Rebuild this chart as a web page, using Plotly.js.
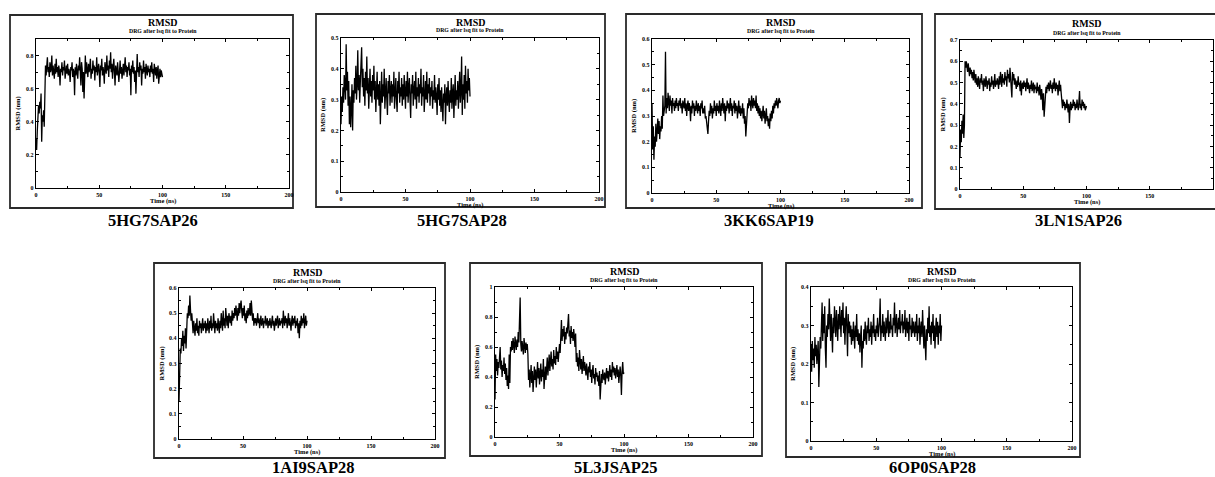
<!DOCTYPE html>
<html>
<head>
<meta charset="utf-8">
<script src="https://cdn.plot.ly/plotly-3.0.1.min.js"></script>
<style>html,body{margin:0;padding:0;background:#fff;}#chart{width:1215px;height:477px;}</style>
</head>
<body>
<div id="chart"></div>
<script>
// ---------------- DATA ----------------
const panelNames = ['5HG7SAP26','5HG7SAP28','3KK6SAP19','3LN1SAP26','1AI9SAP28','5L3JSAP25','6OP0SAP28'];
const chartTitle = 'RMSD';
const chartSubtitle = 'DRG after lsq fit to Protein';
const xAxisLabel = 'Time (ns)';
const yAxisLabel = 'RMSD (nm)';
const timeStep = 0.5; // ns between samples
const xMax = 200;
const xTickStep = 50;
const yMax = [0.9, 0.5, 0.6, 0.7, 0.6, 1, 0.4];
const yTickStep = [0.2, 0.1, 0.1, 0.1, 0.1, 0.2, 0.1];

const rmsd_5HG7SAP26 = [
0.30,0.23,0.34,0.40,0.50,0.45,0.52,0.48,0.57,0.28,0.44,0.40,0.47,0.37,0.69,0.74,0.68,0.72,0.79,0.70,
0.73,0.67,0.76,0.70,0.72,0.80,0.68,0.74,0.71,0.66,0.75,0.69,0.78,0.70,0.73,0.67,0.74,0.71,0.62,0.72,
0.70,0.76,0.68,0.73,0.71,0.77,0.66,0.72,0.74,0.69,0.75,0.68,0.72,0.70,0.64,0.73,0.71,0.76,0.67,0.72,
0.70,0.56,0.73,0.68,0.75,0.70,0.66,0.74,0.71,0.79,0.69,0.62,0.76,0.72,0.58,0.70,0.54,0.74,0.80,0.69,
0.76,0.71,0.67,0.75,0.70,0.73,0.78,0.66,0.72,0.69,0.77,0.71,0.74,0.65,0.73,0.70,0.79,0.68,0.72,0.75,
0.70,0.61,0.74,0.71,0.78,0.68,0.73,0.70,0.63,0.76,0.72,0.69,0.80,0.71,0.74,0.67,0.77,0.72,0.82,0.70,
0.75,0.66,0.73,0.78,0.70,0.62,0.74,0.71,0.68,0.76,0.72,0.64,0.70,0.77,0.69,0.73,0.66,0.71,0.75,0.68,
0.72,0.79,0.70,0.74,0.67,0.73,0.71,0.76,0.68,0.72,0.56,0.74,0.70,0.77,0.69,0.73,0.64,0.71,0.57,0.75,
0.81,0.70,0.73,0.67,0.76,0.71,0.74,0.62,0.72,0.69,0.77,0.70,0.73,0.66,0.75,0.71,0.68,0.74,0.70,0.72,
0.67,0.74,0.70,0.76,0.69,0.72,0.64,0.75,0.70,0.68,0.73,0.66,0.71,0.74,0.63,0.70,0.72,0.67,0.71,0.69,
0.67];

const rmsd_5HG7SAP28 = [
0.22,0.31,0.26,0.34,0.29,0.38,0.35,0.30,0.48,0.33,0.39,0.28,0.36,0.22,0.31,0.21,0.27,0.35,0.20,0.33,
0.29,0.37,0.32,0.41,0.30,0.35,0.46,0.33,0.38,0.29,0.36,0.42,0.47,0.34,0.40,0.31,0.37,0.28,0.39,0.33,
0.44,0.32,0.37,0.27,0.35,0.40,0.31,0.36,0.29,0.38,0.33,0.41,0.30,0.36,0.26,0.34,0.39,0.30,0.35,0.28,
0.36,0.22,0.33,0.39,0.29,0.35,0.31,0.40,0.27,0.34,0.37,0.30,0.25,0.36,0.32,0.38,0.28,0.33,0.36,0.29,
0.35,0.31,0.39,0.27,0.33,0.37,0.30,0.26,0.36,0.32,0.39,0.29,0.34,0.31,0.37,0.28,0.35,0.30,0.38,0.33,
0.27,0.36,0.31,0.39,0.29,0.34,0.37,0.30,0.24,0.35,0.32,0.38,0.28,0.33,0.36,0.30,0.39,0.27,0.34,0.31,
0.37,0.29,0.35,0.32,0.40,0.28,0.34,0.31,0.38,0.26,0.33,0.36,0.30,0.39,0.29,0.35,0.32,0.37,0.28,0.34,
0.31,0.36,0.27,0.33,0.30,0.38,0.29,0.34,0.31,0.25,0.35,0.30,0.37,0.28,0.33,0.26,0.34,0.30,0.23,0.32,
0.29,0.35,0.22,0.31,0.34,0.28,0.36,0.30,0.26,0.33,0.29,0.37,0.27,0.32,0.35,0.24,0.31,0.38,0.28,0.33,
0.30,0.36,0.27,0.34,0.39,0.29,0.33,0.44,0.25,0.35,0.30,0.38,0.27,0.41,0.32,0.36,0.29,0.40,0.33,0.37,
0.31];

const rmsd_3KK6SAP19 = [
0.35,0.17,0.26,0.13,0.22,0.18,0.27,0.20,0.24,0.29,0.23,0.28,0.21,0.26,0.24,0.30,0.25,0.38,0.30,0.33,
0.34,0.55,0.31,0.37,0.33,0.39,0.35,0.32,0.38,0.34,0.36,0.31,0.37,0.34,0.35,0.32,0.36,0.33,0.37,0.34,
0.35,0.32,0.36,0.34,0.37,0.33,0.35,0.31,0.36,0.34,0.33,0.37,0.32,0.35,0.30,0.34,0.36,0.32,0.35,0.33,
0.28,0.34,0.31,0.36,0.33,0.35,0.30,0.34,0.32,0.36,0.33,0.31,0.35,0.32,0.34,0.30,0.35,0.33,0.36,0.31,
0.33,0.31,0.34,0.29,0.30,0.27,0.25,0.23,0.28,0.32,0.30,0.35,0.31,0.34,0.29,0.33,0.31,0.36,0.32,0.34,
0.30,0.35,0.32,0.34,0.31,0.36,0.33,0.30,0.35,0.32,0.37,0.33,0.31,0.35,0.28,0.34,0.32,0.36,0.33,0.35,
0.31,0.34,0.37,0.32,0.35,0.30,0.34,0.33,0.36,0.31,0.35,0.32,0.34,0.29,0.33,0.36,0.31,0.34,0.30,0.33,
0.31,0.35,0.29,0.33,0.27,0.30,0.22,0.28,0.32,0.35,0.33,0.37,0.34,0.36,0.32,0.38,0.35,0.33,0.37,0.34,
0.36,0.33,0.38,0.32,0.35,0.31,0.34,0.30,0.33,0.29,0.32,0.28,0.31,0.34,0.29,0.32,0.27,0.30,0.33,0.28,
0.30,0.26,0.29,0.25,0.31,0.28,0.32,0.29,0.34,0.31,0.35,0.33,0.36,0.34,0.37,0.35,0.33,0.36,0.37,0.35,
0.36];

const rmsd_3LN1SAP26 = [
0.15,0.28,0.22,0.32,0.26,0.35,0.24,0.30,0.60,0.57,0.60,0.58,0.55,0.59,0.56,0.53,0.57,0.54,0.56,0.52,
0.55,0.51,0.56,0.53,0.50,0.54,0.49,0.52,0.48,0.53,0.51,0.47,0.52,0.50,0.54,0.49,0.51,0.46,0.52,0.50,
0.48,0.53,0.50,0.47,0.51,0.49,0.52,0.46,0.50,0.48,0.53,0.49,0.51,0.47,0.50,0.54,0.48,0.51,0.49,0.52,
0.50,0.47,0.53,0.49,0.55,0.51,0.48,0.54,0.50,0.52,0.49,0.55,0.51,0.53,0.48,0.56,0.52,0.54,0.50,0.57,
0.53,0.50,0.43,0.55,0.51,0.54,0.49,0.52,0.50,0.47,0.51,0.48,0.53,0.49,0.50,0.46,0.51,0.44,0.49,0.50,
0.47,0.51,0.48,0.50,0.46,0.49,0.52,0.47,0.50,0.48,0.45,0.49,0.47,0.51,0.46,0.48,0.50,0.45,0.49,0.47,
0.48,0.45,0.50,0.46,0.48,0.44,0.49,0.46,0.42,0.47,0.44,0.37,0.45,0.34,0.40,0.46,0.48,0.45,0.49,0.47,
0.50,0.46,0.48,0.51,0.47,0.49,0.45,0.50,0.47,0.52,0.48,0.46,0.50,0.47,0.49,0.44,0.48,0.51,0.46,0.49,
0.45,0.41,0.38,0.42,0.39,0.41,0.37,0.40,0.38,0.42,0.39,0.36,0.40,0.31,0.38,0.41,0.37,0.40,0.38,0.42,
0.39,0.41,0.37,0.40,0.38,0.42,0.39,0.37,0.41,0.46,0.38,0.40,0.37,0.42,0.39,0.41,0.38,0.40,0.37,0.39,
0.39];

const rmsd_1AI9SAP28 = [
0.15,0.30,0.36,0.34,0.40,0.37,0.43,0.35,0.41,0.38,0.44,0.36,0.46,0.50,0.48,0.53,0.49,0.57,0.51,0.47,
0.50,0.45,0.42,0.47,0.44,0.41,0.46,0.43,0.48,0.42,0.45,0.41,0.47,0.44,0.46,0.42,0.45,0.48,0.43,0.46,
0.44,0.47,0.42,0.46,0.43,0.48,0.45,0.42,0.47,0.44,0.49,0.43,0.46,0.44,0.50,0.45,0.42,0.47,0.44,0.46,
0.43,0.48,0.45,0.42,0.47,0.44,0.50,0.46,0.43,0.51,0.45,0.48,0.44,0.52,0.47,0.45,0.49,0.44,0.50,0.47,
0.46,0.49,0.45,0.51,0.47,0.50,0.48,0.52,0.49,0.53,0.50,0.47,0.52,0.49,0.54,0.50,0.53,0.55,0.51,0.48,
0.52,0.49,0.53,0.47,0.50,0.46,0.51,0.48,0.52,0.49,0.50,0.54,0.49,0.55,0.51,0.47,0.50,0.45,0.48,0.46,
0.48,0.45,0.47,0.50,0.46,0.48,0.44,0.47,0.49,0.45,0.47,0.48,0.44,0.47,0.46,0.49,0.45,0.47,0.48,0.44,
0.47,0.45,0.48,0.46,0.44,0.47,0.49,0.45,0.47,0.43,0.46,0.48,0.45,0.47,0.49,0.44,0.46,0.48,0.45,0.47,
0.46,0.48,0.44,0.51,0.47,0.45,0.49,0.46,0.48,0.44,0.47,0.50,0.45,0.48,0.46,0.43,0.47,0.49,0.45,0.48,
0.46,0.49,0.44,0.47,0.45,0.48,0.42,0.46,0.40,0.47,0.44,0.49,0.45,0.48,0.46,0.50,0.44,0.47,0.49,0.45,
0.47];

const rmsd_5L3JSAP25 = [
0.25,0.55,0.44,0.52,0.41,0.50,0.46,0.55,0.60,0.45,0.51,0.40,0.48,0.44,0.53,0.42,0.49,0.38,0.46,0.34,
0.41,0.32,0.55,0.36,0.60,0.57,0.64,0.58,0.66,0.61,0.56,0.67,0.62,0.58,0.65,0.60,0.70,0.63,0.78,0.93,
0.62,0.57,0.64,0.59,0.55,0.66,0.60,0.56,0.63,0.58,0.62,0.55,0.38,0.45,0.33,0.42,0.48,0.36,0.44,0.30,
0.41,0.47,0.38,0.45,0.33,0.42,0.50,0.39,0.46,0.35,0.43,0.49,0.37,0.45,0.40,0.52,0.32,0.44,0.47,0.38,
0.46,0.53,0.41,0.48,0.55,0.44,0.50,0.57,0.47,0.52,0.45,0.58,0.49,0.54,0.48,0.60,0.52,0.57,0.50,0.55,
0.62,0.56,0.68,0.78,0.64,0.72,0.67,0.74,0.62,0.70,0.65,0.73,0.69,0.76,0.82,0.67,0.71,0.62,0.74,0.66,
0.70,0.64,0.72,0.67,0.60,0.69,0.50,0.56,0.47,0.53,0.44,0.58,0.49,0.45,0.52,0.42,0.48,0.54,0.44,0.50,
0.46,0.41,0.49,0.44,0.38,0.47,0.43,0.50,0.40,0.45,0.36,0.44,0.48,0.39,0.42,0.35,0.46,0.40,0.43,0.37,
0.41,0.34,0.44,0.25,0.39,0.42,0.36,0.45,0.40,0.38,0.43,0.35,0.41,0.46,0.39,0.44,0.37,0.42,0.48,0.40,
0.45,0.38,0.50,0.43,0.47,0.41,0.46,0.39,0.44,0.48,0.40,0.45,0.36,0.43,0.47,0.41,0.28,0.44,0.50,0.42,
0.43];

const rmsd_6OP0SAP28 = [
0.25,0.18,0.26,0.21,0.24,0.19,0.27,0.22,0.25,0.20,0.23,0.26,0.14,0.22,0.27,0.24,0.30,0.36,0.26,0.33,
0.28,0.35,0.24,0.19,0.30,0.27,0.33,0.29,0.37,0.31,0.26,0.33,0.29,0.23,0.32,0.28,0.35,0.30,0.27,0.34,
0.30,0.26,0.33,0.29,0.35,0.31,0.27,0.34,0.30,0.36,0.28,0.32,0.25,0.31,0.35,0.29,0.22,0.33,0.28,0.31,
0.27,0.30,0.25,0.29,0.26,0.31,0.28,0.24,0.30,0.27,0.33,0.26,0.29,0.25,0.28,0.23,0.27,0.30,0.19,0.26,
0.24,0.29,0.26,0.31,0.27,0.25,0.30,0.28,0.32,0.26,0.29,0.27,0.31,0.25,0.30,0.28,0.33,0.27,0.29,0.26,
0.30,0.28,0.32,0.27,0.29,0.31,0.37,0.26,0.30,0.28,0.33,0.27,0.31,0.29,0.26,0.32,0.28,0.30,0.34,0.27,
0.31,0.28,0.33,0.29,0.30,0.27,0.32,0.30,0.36,0.28,0.31,0.33,0.27,0.30,0.32,0.29,0.34,0.28,0.31,0.30,
0.33,0.28,0.31,0.29,0.34,0.27,0.30,0.32,0.28,0.31,0.26,0.33,0.29,0.30,0.27,0.32,0.28,0.31,0.29,0.27,
0.31,0.28,0.33,0.26,0.30,0.28,0.32,0.25,0.29,0.31,0.27,0.34,0.29,0.24,0.30,0.27,0.21,0.29,0.26,0.32,
0.28,0.35,0.27,0.30,0.25,0.31,0.28,0.33,0.26,0.30,0.24,0.29,0.32,0.27,0.31,0.25,0.30,0.28,0.33,0.26,
0.30];

const seriesList = [rmsd_5HG7SAP26, rmsd_5HG7SAP28, rmsd_3KK6SAP19, rmsd_3LN1SAP26,
                    rmsd_1AI9SAP28, rmsd_5L3JSAP25, rmsd_6OP0SAP28];

// ---------------- LAYOUT (pixels) ----------------
const W = 1215, H = 477;
const plotBoxes = [ // [left, top, right, bottom]
  [36, 39, 289, 188],
  [341, 38, 599, 192],
  [652, 39, 909, 193],
  [960, 40, 1213, 189],
  [179, 288, 435, 439],
  [495, 287, 753, 437],
  [811, 287, 1072, 441]
];
const frameBoxes = [
  [10, 15, 293, 208],
  [316, 14, 605, 207],
  [626, 14, 922, 208],
  [935, 14, 1220, 209],
  [154, 263, 445, 458],
  [470, 263, 762, 456],
  [786, 263, 1080, 457]
];
const labelPos = [
  [153, 220], [462, 220], [769, 220], [1078, 220],
  [313, 467], [615, 467], [932, 467]
];

const FONT = '"Liberation Serif", "Times New Roman", serif';
const px = x => x / W;
const py = y => 1 - y / H;

const data = [];
const layout = {
  width: W, height: H,
  margin: {l: 0, r: 0, t: 0, b: 0},
  paper_bgcolor: '#fff', plot_bgcolor: '#fff',
  showlegend: false,
  shapes: [], annotations: []
};

seriesList.forEach((vals, i) => {
  const n = i + 1;
  const sfx = n === 1 ? '' : String(n);
  const times = vals.map((_, k) => k * timeStep);
  data.push({
    type: 'scatter', mode: 'lines',
    x: times, y: vals,
    xaxis: 'x' + sfx, yaxis: 'y' + sfx,
    line: {color: '#000', width: 1.3},
    hoverinfo: 'skip'
  });
  const b = plotBoxes[i];
  const tickFont = {family: FONT, size: 6, color: '#000', weight: 'bold'};
  layout['xaxis' + sfx] = {
    domain: [px(b[0]), px(b[2])], anchor: 'y' + sfx,
    range: [0, xMax], dtick: xTickStep, tick0: 0,
    ticks: 'inside', ticklen: 3, tickwidth: 1, tickcolor: '#000',
    minor: {dtick: xTickStep / 2, ticks: 'inside', ticklen: 2, tickcolor: '#000'},
    showline: true, linecolor: '#000', linewidth: 1.4, mirror: 'ticks',
    showgrid: false, zeroline: false, tickfont: tickFont, fixedrange: true
  };
  layout['yaxis' + sfx] = {
    domain: [py(b[3]), py(b[1])], anchor: 'x' + sfx,
    range: [0, yMax[i]], dtick: yTickStep[i], tick0: 0,
    ticks: 'inside', ticklen: 3, tickwidth: 1, tickcolor: '#000',
    minor: {dtick: yTickStep[i] / 2, ticks: 'inside', ticklen: 2, tickcolor: '#000'},
    showline: true, linecolor: '#000', linewidth: 1.4, mirror: 'ticks',
    showgrid: false, zeroline: false, tickfont: tickFont, fixedrange: true
  };
  const f = frameBoxes[i];
  layout.shapes.push({
    type: 'rect', xref: 'paper', yref: 'paper',
    x0: px(f[0]), x1: px(f[2]), y0: py(f[3]), y1: py(f[1]),
    line: {color: '#2a2a2a', width: 1.8}, fillcolor: 'rgba(0,0,0,0)', layer: 'below'
  });
  const cx = (b[0] + b[2]) / 2, cy = (b[1] + b[3]) / 2;
  layout.annotations.push(
    {text: chartTitle, xref: 'paper', yref: 'paper', x: px(cx), y: py(b[1] - 16),
     xanchor: 'center', yanchor: 'middle', showarrow: false,
     font: {family: FONT, size: 10, color: '#000', weight: 'bold'}},
    {text: chartSubtitle, xref: 'paper', yref: 'paper', x: px(cx), y: py(b[1] - 7.5),
     xanchor: 'center', yanchor: 'middle', showarrow: false,
     font: {family: FONT, size: 5.8, color: '#000', weight: 'bold'}},
    {text: xAxisLabel, xref: 'paper', yref: 'paper', x: px(cx), y: py(b[3] + 13),
     xanchor: 'center', yanchor: 'middle', showarrow: false,
     font: {family: FONT, size: 6.5, color: '#000', weight: 'bold'}},
    {text: yAxisLabel, xref: 'paper', yref: 'paper', x: px(b[0] - 18), y: py(cy),
     xanchor: 'center', yanchor: 'middle', showarrow: false, textangle: -90,
     font: {family: FONT, size: 6.5, color: '#000', weight: 'bold'}},
    {text: panelNames[i], xref: 'paper', yref: 'paper', x: px(labelPos[i][0]), y: py(labelPos[i][1]),
     xanchor: 'center', yanchor: 'middle', showarrow: false,
     font: {family: FONT, size: 16.5, color: '#000', weight: 'bold'}}
  );
});

Plotly.newPlot('chart', data, layout, {staticPlot: true, displayModeBar: false});
</script>
</body>
</html>
